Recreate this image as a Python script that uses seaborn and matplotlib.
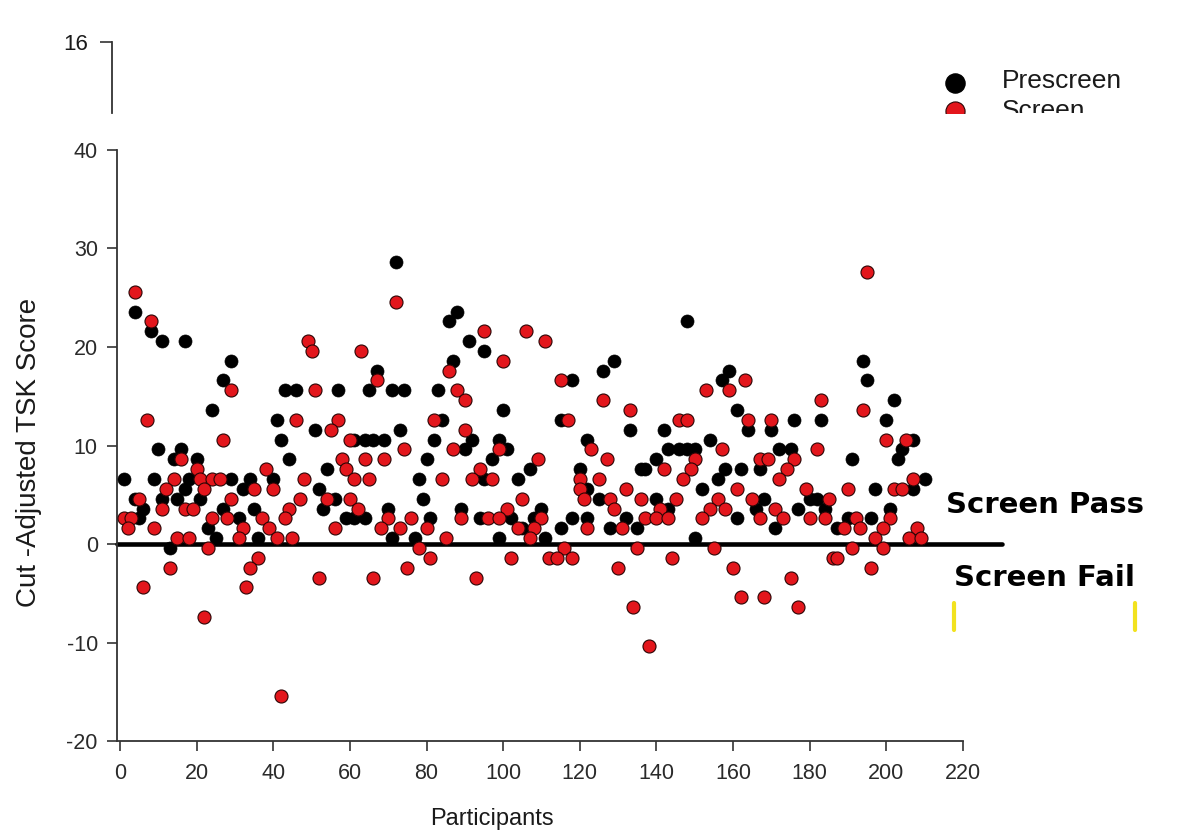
import matplotlib
matplotlib.use('Agg')
import matplotlib.pyplot as plt
import seaborn as sns
from matplotlib.lines import Line2D

# -------------------- DATA --------------------
# participant number and cut-adjusted TSK score
prescreen_participant = [
    4, 8, 11, 17, 29, 27, 24, 10, 16, 14, 20, 1, 9, 18, 29, 17, 4, 11, 15, 21, 6, 27, 5, 23, 25, 13,
    43, 46, 57, 41, 51, 42, 44, 54, 34, 40, 32, 52, 56, 53, 35, 31, 59, 36,
    72, 88, 86, 91, 87, 67, 65, 71, 74, 83, 84, 73, 61, 64, 66, 69, 82, 90, 80, 78, 79, 70, 89, 61, 64, 81, 71, 77,
    95, 118, 100, 115, 92, 99, 101, 97, 107, 120, 95, 104, 110, 94, 102, 108, 118, 105, 115, 99, 111,
    148, 129, 126, 133, 142, 122, 143, 146, 148, 150, 140, 136, 137, 122, 125, 140, 143, 122, 132, 128, 135, 150,
    159, 157, 161, 176, 164, 170, 154, 172, 175, 158, 162, 167, 156, 152, 168, 180, 166, 177, 161, 171,
    194, 195, 202, 183, 200, 207, 204, 191, 203, 210, 197, 207, 182, 184, 201, 190, 196, 187,
]
prescreen_score = [
    23.6, 21.6, 20.6, 20.6, 18.6, 16.6, 13.6, 9.6, 9.6, 8.6, 8.6, 6.6, 6.6, 6.6, 6.6, 5.6, 4.6, 4.6, 4.6, 4.6, 3.6, 3.6, 2.6, 1.6, 0.6, -0.4,
    15.6, 15.6, 15.6, 12.6, 11.6, 10.6, 8.6, 7.6, 6.6, 6.6, 5.6, 5.6, 4.6, 3.6, 3.6, 2.6, 2.6, 0.6,
    28.6, 23.6, 22.6, 20.6, 18.6, 17.6, 15.6, 15.6, 15.6, 15.6, 12.6, 11.6, 10.6, 10.6, 10.6, 10.6, 10.6, 9.6, 8.6, 6.6, 4.6, 3.6, 3.6, 2.6, 2.6, 2.6, 0.6, 0.6,
    19.6, 16.6, 13.6, 12.6, 10.6, 10.6, 9.6, 8.6, 7.6, 7.6, 6.6, 6.6, 3.6, 2.6, 2.6, 2.6, 2.6, 1.6, 1.6, 0.6, 0.6,
    22.6, 18.6, 17.6, 11.6, 11.6, 10.6, 9.6, 9.6, 9.6, 9.6, 8.6, 7.6, 7.6, 5.6, 4.6, 4.6, 3.6, 2.6, 2.6, 1.6, 1.6, 0.6,
    17.6, 16.6, 13.6, 12.6, 11.6, 11.6, 10.6, 9.6, 9.6, 7.6, 7.6, 7.6, 6.6, 5.6, 4.6, 4.6, 3.6, 3.6, 2.6, 1.6,
    18.6, 16.6, 14.6, 12.6, 12.6, 10.6, 9.6, 8.6, 8.6, 6.6, 5.6, 5.6, 4.6, 3.6, 3.6, 2.6, 2.6, 1.6,
]

screen_participant = [
    4, 8, 29, 7, 27, 16, 20, 14, 21, 24, 26, 12, 22, 5, 29, 11, 17, 19, 1, 3, 24, 28, 2, 9, 15, 18, 23, 13, 6, 22,
    49, 50, 51, 46, 57, 55, 60, 58, 59, 38, 48, 35, 40, 47, 54, 60, 44, 37, 43, 32, 39, 56, 31, 41, 45, 36, 34, 33, 52, 42,
    72, 63, 86, 67, 88, 90, 82, 90, 74, 87, 64, 69, 61, 65, 84, 62, 70, 76, 89, 68, 73, 80, 85, 78, 81, 75, 66,
    95, 106, 111, 100, 115, 117, 99, 109, 94, 92, 97, 120, 120, 105, 101, 96, 99, 110, 104, 108, 107, 116, 102, 112, 114, 118, 93,
    126, 133, 146, 148, 123, 127, 150, 142, 149, 125, 147, 132, 121, 128, 136, 145, 129, 141, 137, 140, 143, 122, 131, 135, 144, 130, 134, 138,
    163, 153, 159, 164, 170, 157, 167, 169, 176, 174, 172, 161, 179, 156, 165, 154, 158, 171, 152, 167, 173, 180, 155, 160, 175, 162, 168, 177,
    195, 183, 194, 200, 205, 182, 207, 190, 202, 204, 185, 184, 192, 201, 189, 193, 199, 208, 197, 206, 209, 191, 199, 186, 187, 196,
]
screen_score = [
    25.6, 22.6, 15.6, 12.6, 10.6, 8.6, 7.6, 6.6, 6.6, 6.6, 6.6, 5.6, 5.6, 4.6, 4.6, 3.6, 3.6, 3.6, 2.6, 2.6, 2.6, 2.6, 1.6, 1.6, 0.6, 0.6, -0.4, -2.4, -4.4, -7.4,
    20.6, 19.6, 15.6, 12.6, 12.6, 11.6, 10.6, 8.6, 7.6, 7.6, 6.6, 5.6, 5.6, 4.6, 4.6, 4.6, 3.6, 2.6, 2.6, 1.6, 1.6, 1.6, 0.6, 0.6, 0.6, -1.4, -2.4, -4.4, -3.4, -15.4,
    24.6, 19.6, 17.6, 16.6, 15.6, 14.6, 12.6, 11.6, 9.6, 9.6, 8.6, 8.6, 6.6, 6.6, 6.6, 3.6, 2.6, 2.6, 2.6, 1.6, 1.6, 1.6, 0.6, -0.4, -1.4, -2.4, -3.4,
    21.6, 21.6, 20.6, 18.6, 16.6, 12.6, 9.6, 8.6, 7.6, 6.6, 6.6, 6.6, 5.6, 4.6, 3.6, 2.6, 2.6, 2.6, 1.6, 1.6, 0.6, -0.4, -1.4, -1.4, -1.4, -1.4, -3.4,
    14.6, 13.6, 12.6, 12.6, 9.6, 8.6, 8.6, 7.6, 7.6, 6.6, 6.6, 5.6, 4.6, 4.6, 4.6, 4.6, 3.6, 3.6, 2.6, 2.6, 2.6, 1.6, 1.6, -0.4, -1.4, -2.4, -6.4, -10.4,
    16.6, 15.6, 15.6, 12.6, 12.6, 9.6, 8.6, 8.6, 8.6, 7.6, 6.6, 5.6, 5.6, 4.6, 4.6, 3.6, 3.6, 3.6, 2.6, 2.6, 2.6, 2.6, -0.4, -2.4, -3.4, -5.4, -5.4, -6.4,
    27.6, 14.6, 13.6, 10.6, 10.6, 9.6, 6.6, 5.6, 5.6, 5.6, 4.6, 2.6, 2.6, 2.6, 1.6, 1.6, 1.6, 1.6, 0.6, 0.6, 0.6, -0.4, -0.4, -1.4, -1.4, -2.4,
]

x_ticks = list(range(0, 221, 20))
y_ticks = list(range(-20, 41, 10))
ZERO_LINE_END = 230.3

# -------------------- STYLE --------------------
sns.set_style('ticks')
plt.rcParams['font.family'] = ['Liberation Sans', 'DejaVu Sans']
plt.rcParams['axes.unicode_minus'] = False
axis_grey = '#333333'
text_col = '#1a1a1a'
red = '#e3161c'

fig = plt.figure(figsize=(11.88, 8.36), dpi=100)

# -------------------- MAIN PANEL --------------------
ax = fig.add_axes([0.0987, 0.1136, 0.7119, 0.707])

ax.plot([-0.7, ZERO_LINE_END], [0, 0], color='black', lw=3.3, clip_on=False, zorder=2)

sns.scatterplot(x=prescreen_participant, y=prescreen_score, color='black',
                edgecolor='black', linewidth=0.5, s=88, ax=ax, zorder=3)
sns.scatterplot(x=screen_participant, y=screen_score, color=red,
                edgecolor='#2b0505', linewidth=0.8, s=88, ax=ax, zorder=4)

ax.set_xlim(-0.7, 220)
ax.set_ylim(-20, 40)
ax.set_xticks(x_ticks)
ax.set_yticks(y_ticks)
for side in ['top', 'right']:
    ax.spines[side].set_visible(False)
for side in ['left', 'bottom']:
    ax.spines[side].set_color(axis_grey)
    ax.spines[side].set_linewidth(1.3)
ax.tick_params(direction='out', length=7, width=1.2, color=axis_grey,
               labelsize=15.5, labelcolor='#2a2a2a')
ax.tick_params(axis='x', pad=9)
ax.tick_params(axis='y', pad=7)

ax.set_xlabel('Participants', fontsize=17, color=text_col, va='top')
ax.xaxis.set_label_coords(0.443, -0.113)
ax.set_ylabel('Cut -Adjusted TSK Score', fontsize=20, color=text_col)
ax.yaxis.set_label_coords(-0.089, 0.489)

ax.text(215.5, 4.0, 'Screen Pass', family='DejaVu Sans', weight='bold',
        fontsize=21, color='black', va='center', ha='left', clip_on=False)
ax.text(217.6, -3.4, 'Screen Fail', family='DejaVu Sans', weight='bold',
        fontsize=21, color='black', va='center', ha='left', clip_on=False)

# -------------------- TOP STRIP (cropped panel above) --------------------
ax_top = fig.add_axes([112 / 1188, 723 / 836, 1 - 112 / 1188, 71 / 836])
ax_top.patch.set_visible(False)
ax_top.set_ylim(12, 16)
ax_top.set_yticks([16])
ax_top.set_xticks([])
for side in ['top', 'right', 'bottom']:
    ax_top.spines[side].set_visible(False)
ax_top.spines['left'].set_color(axis_grey)
ax_top.spines['left'].set_linewidth(1.3)
ax_top.tick_params(axis='y', direction='out', length=9, width=1.2, color=axis_grey,
                   labelsize=16, labelcolor=text_col, pad=8)

ax_top.scatter([0.7835], [0.4225], s=190, color='black', transform=ax_top.transAxes)
ax_top.scatter([0.7835], [0.03], s=190, color=red, edgecolor='#2b0505',
               linewidth=0.8, transform=ax_top.transAxes)
ax_top.text(0.827, 0.45, 'Prescreen', transform=ax_top.transAxes, fontsize=19,
            color=text_col, va='center', ha='left', clip_on=True)
ax_top.text(0.827, 0.03, 'Screen', transform=ax_top.transAxes, fontsize=19,
            color=text_col, va='center', ha='left', clip_on=True)

# small yellow marks left in the scan
for xpix in [954, 1135]:
    fig.add_artist(Line2D([xpix / 1188] * 2, [1 - 603 / 836, 1 - 630 / 836],
                          transform=fig.transFigure, color='#f2e21e', lw=3))

fig.savefig('out.png', dpi=100)
